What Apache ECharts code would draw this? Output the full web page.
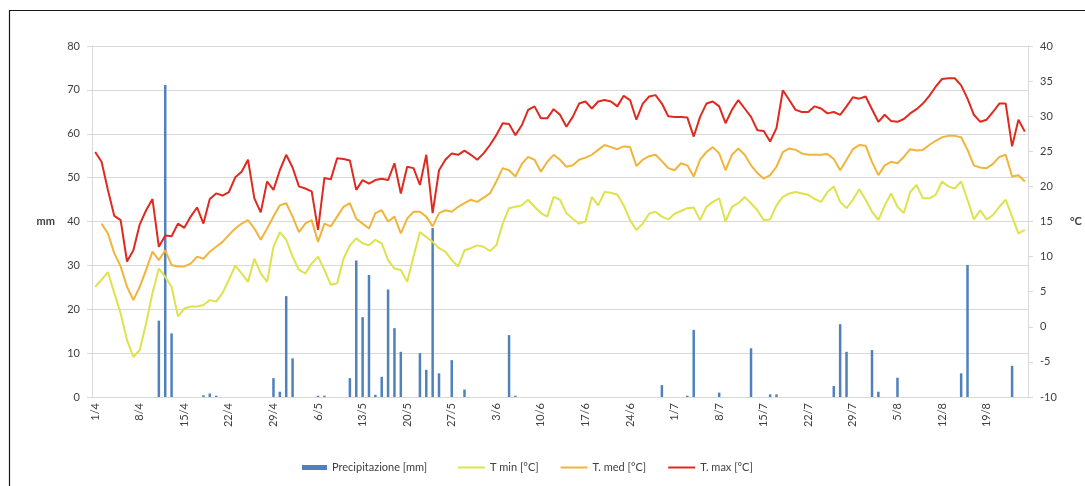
<!DOCTYPE html>
<html>
<head>
<meta charset="utf-8">
<script src="https://cdn.jsdelivr.net/npm/echarts@6/dist/echarts.min.js"></script>
<style>
  html, body { margin: 0; padding: 0; background: #ffffff; }
  #chart { width: 1085px; height: 486px; }
</style>
</head>
<body>
<div id="chart"></div>
<script>
// Daily labels "d/m" from 1 April to 25 August
const monthSpans = [[4, 30], [5, 31], [6, 30], [7, 31], [8, 25]];
const days = [];
monthSpans.forEach(([m, n]) => { for (let d = 1; d <= n; d++) days.push(d + '/' + m); });

// Precipitation (mm), one value per day
const precip = [
  0, 0, 0, 0, 0, 0, 0, 0, 0, 0, 17.4, 71.1, 14.5, 0, 0, 0, 0, 0.4, 0.8, 0.3,
  0, 0, 0, 0, 0, 0, 0, 0, 4.3, 1.2, 23.0, 8.8, 0, 0, 0, 0.3, 0.3, 0, 0, 0,
  4.3, 31.1, 18.2, 27.8, 0.5, 4.6, 24.5, 15.7, 10.3, 0, 0, 10.0, 6.2, 38.5, 5.4, 0, 8.4, 0, 1.7, 0,
  0, 0, 0, 0, 0, 14.1, 0.3, 0, 0, 0, 0, 0, 0, 0, 0, 0, 0, 0, 0, 0,
  0, 0, 0, 0, 0, 0, 0, 0, 0, 2.7, 0, 0, 0, 0.3, 15.3, 0, 0, 0, 1.0, 0,
  0, 0, 0, 11.1, 0, 0, 0.6, 0.6, 0, 0, 0, 0, 0, 0, 0, 0, 2.5, 16.6, 10.3, 0,
  0, 0, 10.7, 1.2, 0, 0, 4.4, 0, 0, 0, 0, 0, 0, 0, 0, 0, 5.4, 30.1, 0, 0,
  0, 0, 0, 0, 7.1, 0, 0
];

// Minimum temperature (°C)
const tMin = [
  5.7, 6.7, 7.8, 4.8, 1.9, -1.9, -4.3, -3.3, 0.5, 4.8, 8.3, 7.1, 5.7, 1.5, 2.6, 2.9, 2.9, 3.1, 3.8, 3.6,
  4.8, 6.7, 8.7, 7.6, 6.4, 9.7, 7.6, 6.4, 11.4, 13.5, 12.4, 10.0, 8.1, 7.6, 9.0, 10.0, 8.1, 6.0, 6.2, 9.7,
  11.6, 12.6, 11.9, 11.6, 12.4, 11.9, 9.5, 8.3, 8.1, 6.4, 10.0, 13.5, 12.8, 12.1, 11.2, 10.7, 9.5, 8.6, 10.9, 11.2,
  11.6, 11.4, 10.8, 11.6, 14.7, 16.9, 17.1, 17.3, 18.1, 17.1, 16.2, 15.7, 18.5, 18.1, 16.2, 15.4, 14.7, 15.0, 18.5, 17.3,
  19.2, 19.1, 18.8, 17.3, 15.2, 13.8, 14.7, 16.1, 16.4, 15.7, 15.3, 16.1, 16.5, 16.9, 17.0, 15.2, 17.1, 17.8, 18.3, 15.0,
  17.1, 17.6, 18.5, 17.6, 16.6, 15.2, 15.3, 17.3, 18.5, 19.0, 19.2, 19.0, 18.8, 18.2, 17.8, 19.2, 20.0, 17.8, 16.9, 18.1,
  19.6, 18.1, 16.4, 15.2, 17.3, 19.0, 17.1, 16.2, 19.2, 20.2, 18.3, 18.3, 18.8, 20.7, 20.0, 19.7, 20.7, 18.1, 15.3, 16.6,
  15.3, 15.9, 17.1, 18.1, 15.7, 13.3, 13.8
];

// Mean temperature (°C)
const tMed = [
  null, 14.7, 13.3, 10.5, 8.6, 5.7, 3.8, 5.7, 8.1, 10.7, 9.5, 10.9, 8.8, 8.6, 8.6, 9.0, 10.0, 9.7, 10.7, 11.4,
  12.1, 13.1, 14.0, 14.7, 15.2, 14.0, 12.4, 14.0, 15.7, 17.3, 17.6, 15.7, 13.5, 14.7, 15.2, 12.1, 14.7, 14.3, 15.7, 17.1,
  17.6, 15.4, 14.7, 14.0, 16.2, 16.6, 15.0, 15.7, 13.3, 15.4, 16.4, 16.4, 15.7, 14.3, 16.2, 16.6, 16.4, 17.1, 17.6, 18.1,
  17.8, 18.4, 19.0, 20.7, 22.6, 22.3, 21.4, 23.2, 24.2, 23.8, 22.1, 23.5, 24.5, 23.8, 22.8, 23.0, 23.8, 24.1, 24.5, 25.2,
  25.9, 25.6, 25.3, 25.7, 25.6, 22.9, 23.8, 24.3, 24.5, 23.6, 22.6, 22.3, 23.3, 23.0, 21.4, 23.8, 24.9, 25.6, 24.7, 22.3,
  24.5, 25.4, 24.5, 23.0, 21.9, 21.1, 21.6, 22.8, 24.9, 25.4, 25.2, 24.7, 24.5, 24.5, 24.5, 24.6, 23.9, 22.3, 23.8, 25.3,
  25.9, 25.8, 23.5, 21.6, 23.0, 23.5, 23.3, 24.2, 25.3, 25.1, 25.2, 25.9, 26.5, 27.0, 27.2, 27.2, 27.0, 25.2, 23.0, 22.7,
  22.6, 23.2, 24.2, 24.5, 21.4, 21.6, 20.7
];

// Maximum temperature (°C)
const tMax = [
  24.9, 23.5, 19.5, 15.8, 15.2, 9.3, 10.9, 14.6, 16.6, 18.2, 11.4, 13.0, 12.9, 14.7, 14.1, 15.7, 17.0, 14.7, 18.2, 19.0,
  18.7, 19.2, 21.3, 22.1, 23.8, 18.3, 16.3, 20.7, 19.5, 22.3, 24.5, 22.7, 20.0, 19.7, 19.3, 13.8, 21.2, 21.0, 24.0, 23.9,
  23.7, 19.5, 20.9, 20.4, 20.9, 21.1, 20.9, 23.3, 19.0, 22.8, 22.6, 20.2, 24.5, 16.2, 22.3, 23.8, 24.7, 24.5, 25.1, 24.5,
  23.8, 24.7, 25.9, 27.3, 29.0, 28.9, 27.3, 28.7, 30.9, 31.4, 29.7, 29.7, 31.0, 30.2, 28.5, 29.9, 31.8, 32.1, 31.1, 32.1,
  32.3, 32.1, 31.4, 32.9, 32.3, 29.5, 31.8, 32.8, 33.0, 31.8, 30.0, 29.9, 29.9, 29.8, 27.1, 29.9, 31.8, 32.1, 31.4, 29.0,
  30.9, 32.3, 31.1, 29.9, 28.0, 27.9, 26.4, 28.3, 33.7, 32.3, 30.9, 30.6, 30.6, 31.4, 31.1, 30.4, 30.6, 30.2, 31.4, 32.7,
  32.5, 32.8, 31.0, 29.2, 30.2, 29.3, 29.2, 29.6, 30.4, 31.0, 31.8, 32.9, 34.2, 35.3, 35.4, 35.4, 34.4, 32.5, 30.2, 29.2,
  29.5, 30.6, 31.8, 31.8, 25.7, 29.5, 27.8
];

const seriesNames = ['Precipitazione [mm]', 'T min [°C]', 'T. med [°C]', 'T. max [°C]'];
const seriesColors = ['#4f81bd', '#dde24d', '#f0b53a', '#de2a1f'];
const leftTicks = { min: 0, max: 80, step: 10 };
const rightTicks = { min: -10, max: 40, step: 5 };

const FONT = 'Lato';
const TEXT = '#404040';
const GRID = '#d9d9d9';

const legendText = { color: TEXT, fontSize: 11, fontFamily: FONT };

function tempLine(idx, values) {
  return {
    name: seriesNames[idx],
    type: 'line',
    yAxisIndex: 1,
    data: values,
    symbol: 'none',
    lineStyle: { color: seriesColors[idx], width: 2 },
    itemStyle: { color: seriesColors[idx] }
  };
}

const chart = echarts.init(document.getElementById('chart'), null, { renderer: 'canvas' });

chart.setOption({
  backgroundColor: '#ffffff',
  animation: false,
  textStyle: { fontFamily: FONT },
  graphic: [{
    type: 'rect',
    shape: { x: 9.5, y: 10.5, width: 1100, height: 500 },
    style: { fill: 'none', stroke: '#1a1a1a', lineWidth: 1.2 },
    silent: true
  }],
  grid: { left: 92, right: 57, top: 46, bottom: 89 },
  legend: [
    {
      // bar key: filled block
      left: 297,
      top: 457,
      itemWidth: 25,
      itemHeight: 5,
      icon: 'rect',
      textStyle: legendText,
      data: [seriesNames[0]]
    },
    {
      // temperature keys: thin line segments
      left: 453,
      top: 457,
      itemWidth: 27,
      itemHeight: 2,
      itemGap: 22,
      icon: 'rect',
      textStyle: legendText,
      data: [seriesNames[1], seriesNames[2], seriesNames[3]]
    }
  ],
  xAxis: {
    type: 'category',
    data: days,
    boundaryGap: true,
    axisLine: { lineStyle: { color: GRID, width: 1 } },
    axisTick: { show: false },
    axisLabel: {
      interval: 6,
      rotate: 90,
      margin: 6,
      color: TEXT,
      fontSize: 11,
      fontFamily: FONT
    }
  },
  yAxis: [
    {
      type: 'value',
      min: leftTicks.min,
      max: leftTicks.max,
      interval: leftTicks.step,
      name: 'mm',
      nameLocation: 'middle',
      nameRotate: 0,
      nameGap: 37,
      nameTextStyle: { color: TEXT, fontSize: 11, fontWeight: 'bold', fontFamily: FONT },
      axisLine: { show: true, lineStyle: { color: GRID } },
      axisTick: { show: true, length: 5, lineStyle: { color: GRID } },
      axisLabel: { color: TEXT, fontSize: 11, margin: 12, fontFamily: FONT },
      splitLine: { show: true, lineStyle: { color: GRID, width: 1 } }
    },
    {
      type: 'value',
      position: 'right',
      min: rightTicks.min,
      max: rightTicks.max,
      interval: rightTicks.step,
      name: '°C',
      nameLocation: 'middle',
      nameRotate: 0,
      nameGap: 42,
      nameTextStyle: { color: TEXT, fontSize: 11, fontWeight: 'bold', fontFamily: FONT },
      axisLine: { show: true, lineStyle: { color: GRID } },
      axisTick: { show: true, length: 5, lineStyle: { color: GRID } },
      axisLabel: { color: TEXT, fontSize: 11, margin: 12, fontFamily: FONT },
      splitLine: { show: false }
    }
  ],
  series: [
    {
      name: seriesNames[0],
      type: 'bar',
      yAxisIndex: 0,
      data: precip,
      barWidth: 2.5,
      itemStyle: { color: seriesColors[0] }
    },
    tempLine(1, tMin),
    tempLine(2, tMed),
    tempLine(3, tMax)
  ]
});
</script>
</body>
</html>
